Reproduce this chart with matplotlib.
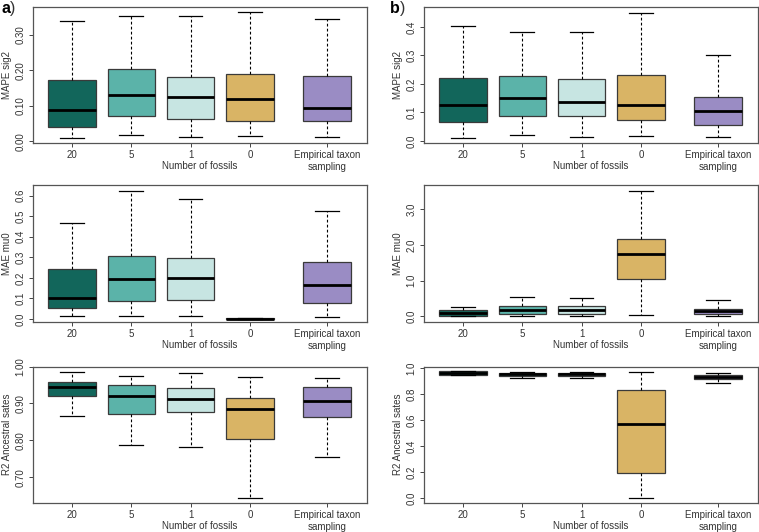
import matplotlib
matplotlib.use("Agg")
import matplotlib.pyplot as plt

plt.rcParams['font.family'] = ['Liberation Sans', 'DejaVu Sans']

categories = ["20", "5", "1", "0", "Empirical taxon\nsampling"]
positions = [1, 2, 3, 4, 5.3]
colors = ["#12665b", "#5bb3a9", "#c7e5e2", "#d9b465", "#9a8cc4"]
xlabel = "Number of fossils"

# Panel a, top: MAPE sig2
a_sig2_lo = [0.010, 0.018, 0.012, 0.015, 0.012]
a_sig2_q1 = [0.039, 0.070, 0.064, 0.058, 0.056]
a_sig2_med = [0.087, 0.130, 0.125, 0.118, 0.094]
a_sig2_q3 = [0.172, 0.203, 0.182, 0.188, 0.184]
a_sig2_hi = [0.338, 0.353, 0.353, 0.364, 0.344]

# Panel b, top: MAPE sig2
b_sig2_lo = [0.012, 0.021, 0.015, 0.016, 0.013]
b_sig2_q1 = [0.065, 0.089, 0.086, 0.073, 0.055]
b_sig2_med = [0.126, 0.152, 0.136, 0.127, 0.104]
b_sig2_q3 = [0.221, 0.227, 0.216, 0.230, 0.156]
b_sig2_hi = [0.404, 0.384, 0.384, 0.450, 0.302]

# Panel a, middle: MAE mu0
a_mu0_lo = [0.013, 0.013, 0.013, 0.000, 0.010]
a_mu0_q1 = [0.053, 0.087, 0.095, 0.000, 0.078]
a_mu0_med = [0.102, 0.197, 0.199, 0.002, 0.165]
a_mu0_q3 = [0.243, 0.307, 0.299, 0.004, 0.277]
a_mu0_hi = [0.469, 0.624, 0.585, 0.005, 0.527]

# Panel b, middle: MAE mu0
b_mu0_lo = [0.00, 0.01, 0.02, 0.04, 0.00]
b_mu0_q1 = [0.02, 0.075, 0.067, 1.05, 0.056]
b_mu0_med = [0.11, 0.17, 0.18, 1.74, 0.14]
b_mu0_q3 = [0.18, 0.30, 0.29, 2.17, 0.22]
b_mu0_hi = [0.27, 0.55, 0.52, 3.52, 0.45]

# Panel a, bottom: R2 Ancestral sates
a_r2_lo = [0.867, 0.788, 0.782, 0.645, 0.756]
a_r2_q1 = [0.920, 0.872, 0.877, 0.805, 0.864]
a_r2_med = [0.944, 0.920, 0.912, 0.886, 0.907]
a_r2_q3 = [0.958, 0.949, 0.943, 0.916, 0.946]
a_r2_hi = [0.986, 0.975, 0.984, 0.973, 0.970]

# Panel b, bottom: R2 Ancestral sates
b_r2_lo = [0.945, 0.921, 0.921, 0.005, 0.883]
b_r2_q1 = [0.948, 0.939, 0.939, 0.192, 0.916]
b_r2_med = [0.965, 0.954, 0.954, 0.568, 0.933]
b_r2_q3 = [0.975, 0.964, 0.964, 0.829, 0.949]
b_r2_hi = [0.978, 0.969, 0.969, 0.967, 0.964]

a_sig2_ticks = [0.0, 0.1, 0.2, 0.3]
a_sig2_ticklabels = ["0.00", "0.10", "0.20", "0.30"]
b_sig2_ticks = [0.0, 0.1, 0.2, 0.3, 0.4]
b_sig2_ticklabels = ["0.0", "0.1", "0.2", "0.3", "0.4"]
a_mu0_ticks = [0.0, 0.1, 0.2, 0.3, 0.4, 0.5, 0.6]
a_mu0_ticklabels = ["0.0", "0.1", "0.2", "0.3", "0.4", "0.5", "0.6"]
b_mu0_ticks = [0.0, 1.0, 2.0, 3.0]
b_mu0_ticklabels = ["0.0", "1.0", "2.0", "3.0"]
a_r2_ticks = [0.7, 0.8, 0.9, 1.0]
a_r2_ticklabels = ["0.70", "0.80", "0.90", "1.00"]
b_r2_ticks = [0.0, 0.2, 0.4, 0.6, 0.8, 1.0]
b_r2_ticklabels = ["0.0", "0.2", "0.4", "0.6", "0.8", "1.0"]

W, H = 759, 532
fig = plt.figure(figsize=(W / 100, H / 100), dpi=100)

def rect(x0, y0, x1, y1):
    return [x0 / W, 1 - y1 / H, (x1 - x0) / W, (y1 - y0) / H]

TXT = "#333333"
FS = 7.0

def panel(r, lo, q1, med, q3, hi, ylim, ticks, ticklabels, ylabel):
    ax = fig.add_axes(r)
    stats = []
    for i in range(len(categories)):
        stats.append(dict(whislo=lo[i], q1=q1[i], med=med[i], q3=q3[i],
                          whishi=hi[i], fliers=[]))
    bp = ax.bxp(stats, positions=positions, widths=0.8, patch_artist=True,
                showfliers=False, capwidths=0.4,
                boxprops=dict(edgecolor="#3a3a3a", linewidth=0.9),
                medianprops=dict(color="black", linewidth=2.0, solid_capstyle="butt"),
                whiskerprops=dict(color="black", linewidth=0.8, linestyle=(0, (2.5, 2))),
                capprops=dict(color="black", linewidth=0.9))
    for patch, c in zip(bp["boxes"], colors):
        patch.set_facecolor(c)
    ax.set_xlim(0.342, 5.975)
    ax.set_ylim(*ylim)
    ax.set_yticks(ticks)
    ax.set_yticklabels(ticklabels, rotation=90, va="center", fontsize=FS, color=TXT)
    ax.set_xticks(positions)
    ax.set_xticklabels(categories, fontsize=FS, color=TXT, linespacing=1.22)
    ax.tick_params(axis="y", length=3, width=0.7, color="#444444", pad=2.5)
    ax.tick_params(axis="x", length=3, width=0.7, color="#444444", pad=2.5)
    ax.annotate(xlabel, xy=(0.5, 0), xycoords="axes fraction",
                xytext=(0, -23), textcoords="offset pixels",
                ha="center", va="center", fontsize=FS, color=TXT)
    ax.set_ylabel(ylabel, fontsize=FS, color=TXT)
    ax.yaxis.set_label_coords(-21 / 334, 0.5)
    for s in ax.spines.values():
        s.set_color("#555555")
        s.set_linewidth(0.9)
    return ax

panel(rect(33, 7, 367, 142.7), a_sig2_lo, a_sig2_q1, a_sig2_med, a_sig2_q3, a_sig2_hi,
      (-0.004, 0.378), a_sig2_ticks, a_sig2_ticklabels, "MAPE sig2")
panel(rect(424, 7, 758, 142.7), b_sig2_lo, b_sig2_q1, b_sig2_med, b_sig2_q3, b_sig2_hi,
      (-0.006, 0.470), b_sig2_ticks, b_sig2_ticklabels, "MAPE sig2")
panel(rect(33, 185, 367, 321.5), a_mu0_lo, a_mu0_q1, a_mu0_med, a_mu0_q3, a_mu0_hi,
      (-0.012, 0.652), a_mu0_ticks, a_mu0_ticklabels, "MAE mu0")
panel(rect(424, 185, 758, 321.5), b_mu0_lo, b_mu0_q1, b_mu0_med, b_mu0_q3, b_mu0_hi,
      (-0.14, 3.68), b_mu0_ticks, b_mu0_ticklabels, "MAE mu0")
panel(rect(33, 366.6, 367, 502.7), a_r2_lo, a_r2_q1, a_r2_med, a_r2_q3, a_r2_hi,
      (0.631, 1.0), a_r2_ticks, a_r2_ticklabels, "R2 Ancestral sates")
panel(rect(424, 366.6, 758, 502.7), b_r2_lo, b_r2_q1, b_r2_med, b_r2_q3, b_r2_hi,
      (-0.034, 1.011), b_r2_ticks, b_r2_ticklabels, "R2 Ancestral sates")

fig.text(1 / W, 1 - 1 / H, "a", fontsize=11.5, fontweight="bold", va="top", ha="left")
fig.text(10 / W, 1 - 1 / H, ")", fontsize=11.5, va="top", ha="left", color="#333333")
fig.text(390 / W, 1 - 1 / H, "b", fontsize=11.5, fontweight="bold", va="top", ha="left")
fig.text(399.5 / W, 1 - 1 / H, ")", fontsize=11.5, va="top", ha="left", color="#333333")

fig.savefig("out.png", dpi=100)
